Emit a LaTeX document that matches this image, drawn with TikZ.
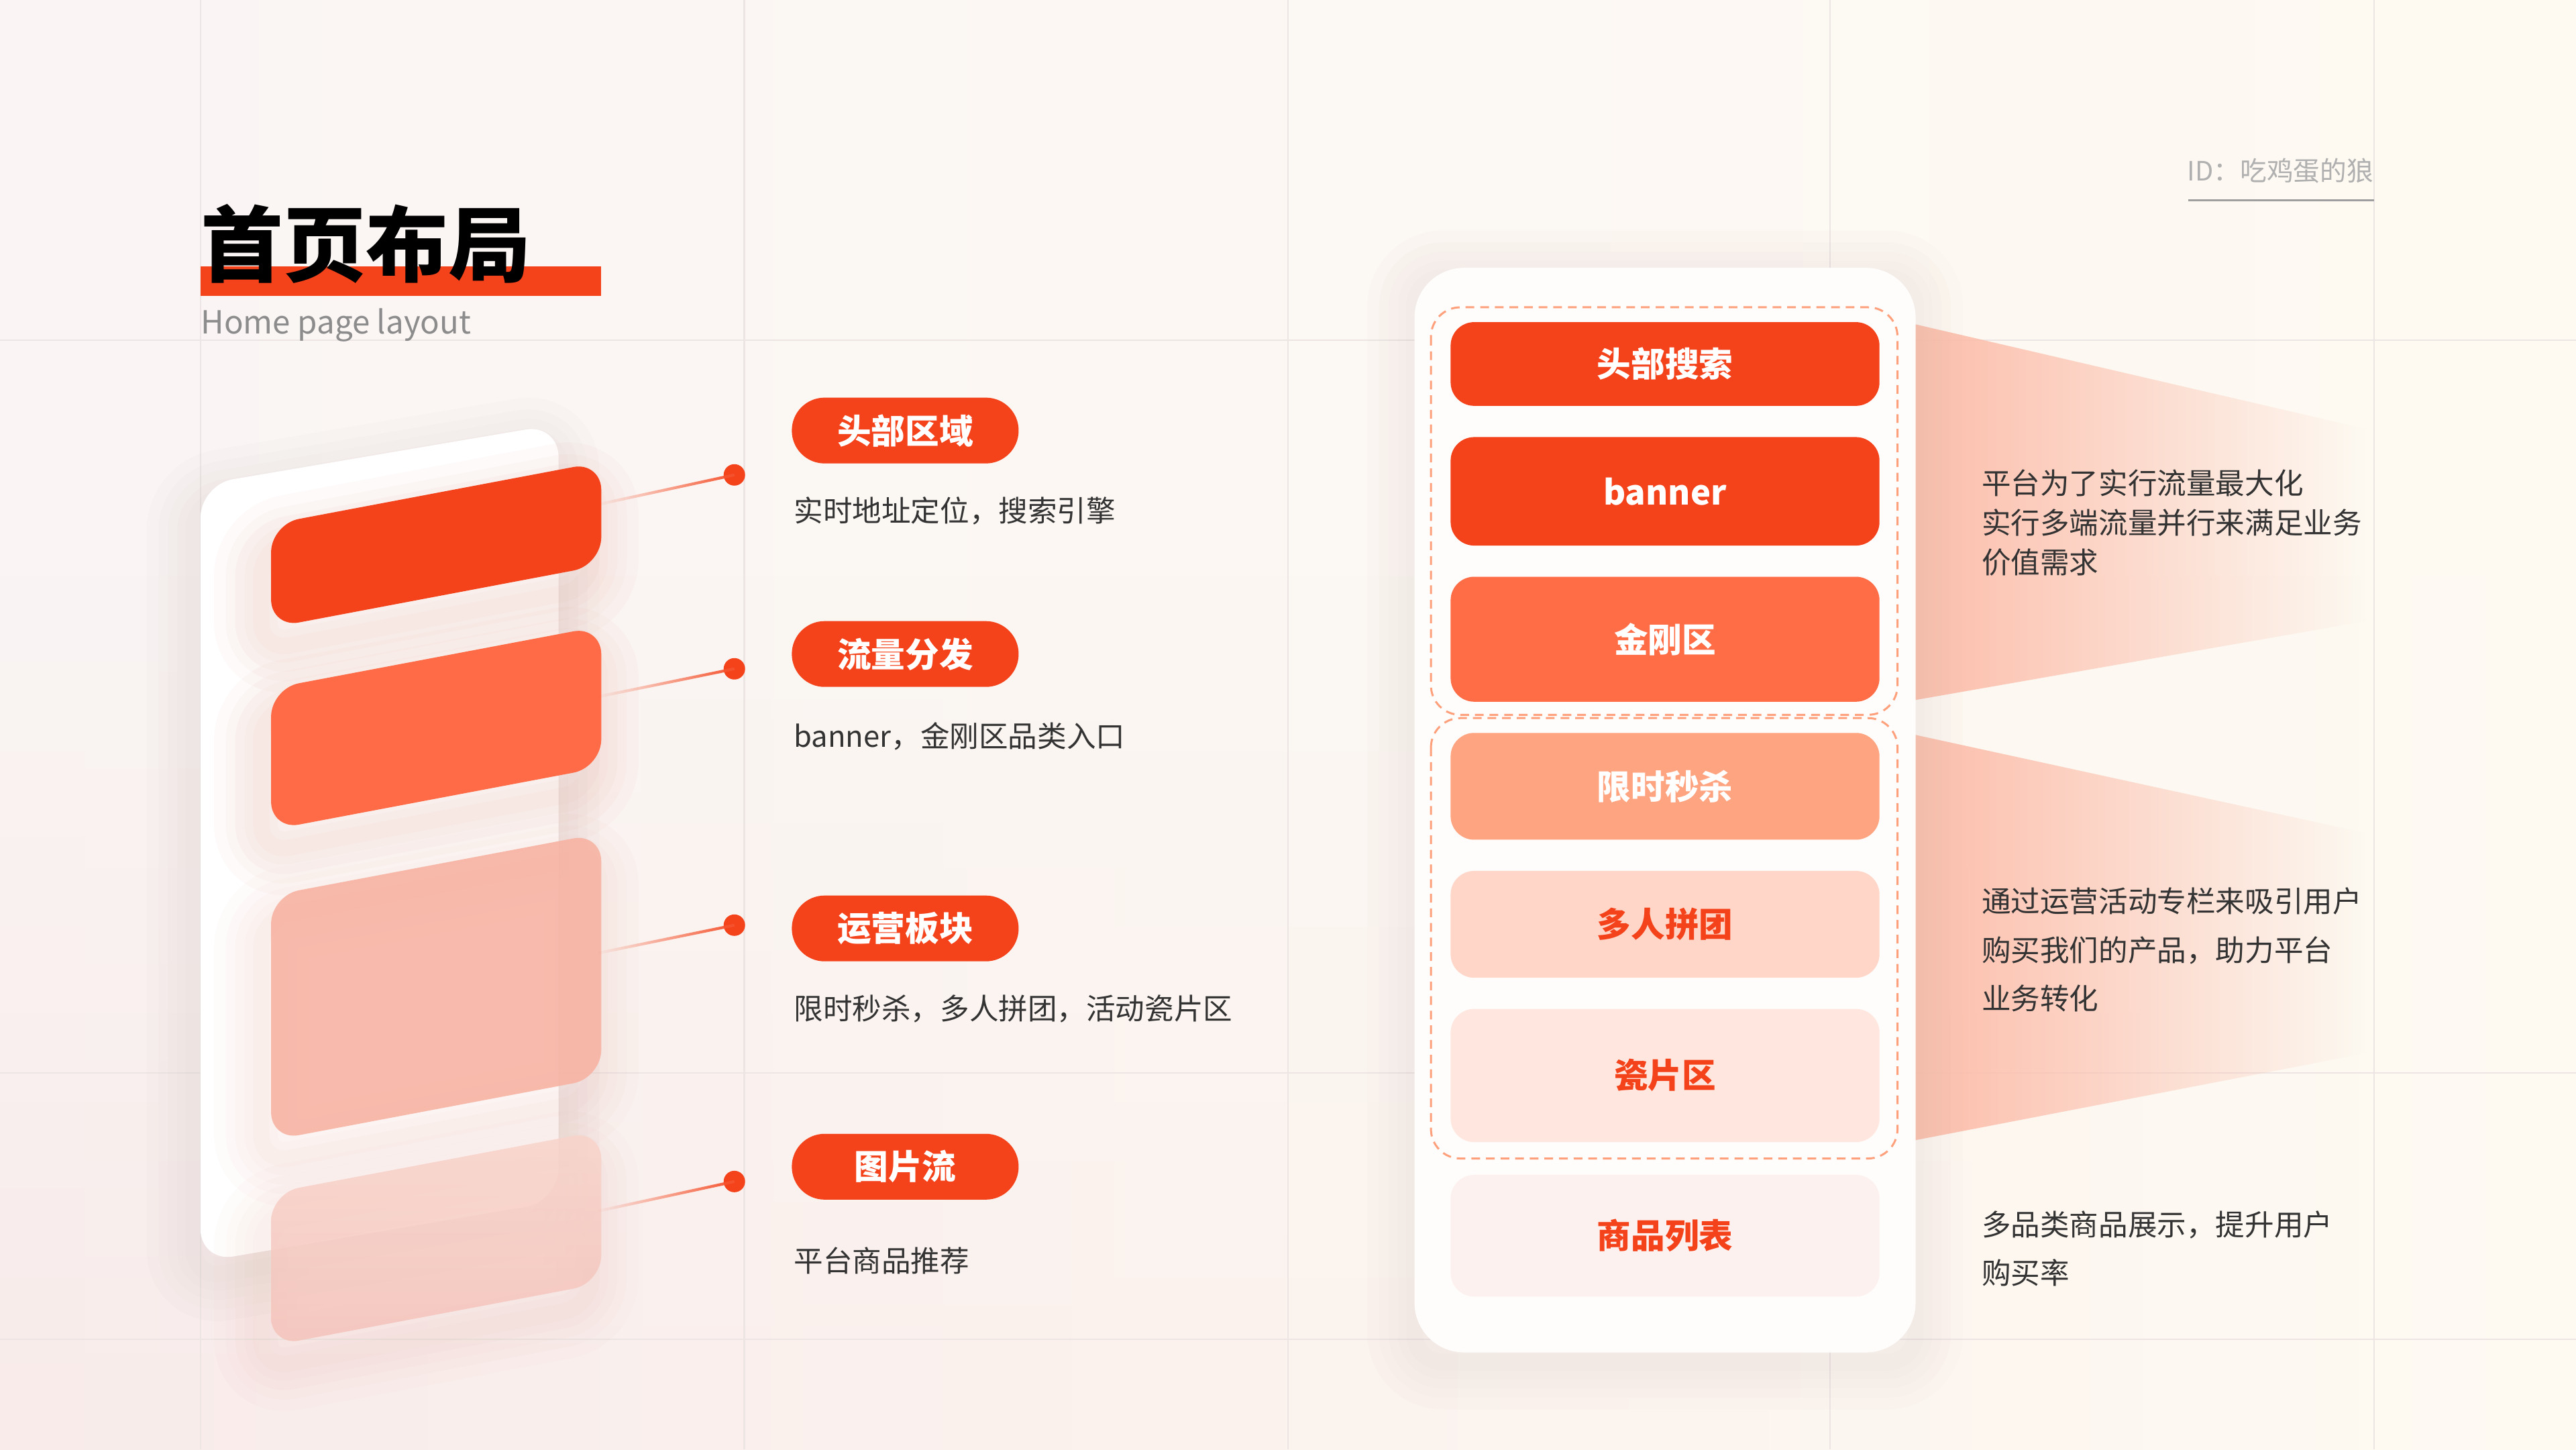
\documentclass[tikz,border=0pt]{standalone}
\usepackage{fontspec}
\setmainfont{Noto Sans CJK SC}
\usetikzlibrary{fadings}
\tikzfading[name=fadeL, left color=transparent!100, right color=transparent!0]
\tikzfading[name=fadeR, left color=transparent!0, middle color=transparent!35, right color=transparent!100]
\tikzfading[name=fadeUp, top color=transparent!100, bottom color=transparent!0]
\definecolor{mainred}{HTML}{F4421B}
\definecolor{orangeB}{HTML}{FF6B46}
\definecolor{orangeC}{HTML}{FF6D47}
\definecolor{orangeD}{HTML}{FFA480}
\definecolor{peachE}{HTML}{FFD6C8}
\definecolor{peachF}{HTML}{FFE7DF}
\definecolor{peachG}{HTML}{FCF1EE}
\definecolor{pinkA}{HTML}{F7B3A3}
\definecolor{pinkBt}{HTML}{F8D4CB}
\definecolor{pinkBb}{HTML}{F4C2B9}
\definecolor{raycol}{HTML}{FCBCA9}
\definecolor{gridc}{HTML}{ECE5E3}
\definecolor{dashc}{HTML}{FFA07C}
\definecolor{txt}{HTML}{333333}
\definecolor{subgray}{HTML}{8C8C8C}
\definecolor{idgray}{HTML}{B0B0B0}
\definecolor{bgL}{HTML}{FAF5F4}
\definecolor{bgR}{HTML}{FEFAF2}
\definecolor{bgPink}{HTML}{F8EBEA}
\definecolor{connc}{HTML}{F5532E}
\definecolor{shadowg}{HTML}{CFC3C0}
\definecolor{shadowp}{HTML}{E7A495}
\newcommand{\glowpath}[4]{%
  \foreach \w in {40,30,22,14,7}{\draw[#1, opacity=#2, line width=\w pt, line join=round, rounded corners=12pt, shift={#3}] #4;}}
\begin{document}
\begin{tikzpicture}[x=0.024490cm,y=-0.024490cm,
  pill/.style={rectangle, rounded corners=13.9pt, fill=mainred, text=white, minimum width=96.2pt, minimum height=27.9pt, inner sep=0pt, font=\bfseries\fontsize{14.4}{14.4}\selectfont},
  pbox/.style={rectangle, rounded corners=10pt, minimum width=181.9pt, inner sep=0pt, font=\bfseries\fontsize{14.4}{14.4}\selectfont},
  desc/.style={anchor=west, inner sep=0pt, text=txt, font=\fontsize{12.4}{12.4}\selectfont},
  rtext/.style={anchor=west, inner sep=0pt, text=txt, align=left},
  dot/.style={circle, fill=mainred, inner sep=0pt, minimum size=9.1pt},
  conn/.style={line width=1.2pt, draw=connc, path fading=fadeL},
  gridline/.style={draw=gridc, line width=0.7pt},
  dashbox/.style={draw=dashc, line width=0.85pt, dash pattern=on 3.7pt off 2.5pt, rounded corners=12.5pt}
]
\useasboundingbox (0,0) rectangle (1568,882);
% background
\shade[left color=bgL, right color=bgR] (0,0) rectangle (1568,882);
\shade[left color=bgPink, middle color=bgPink!60!bgR, right color=bgR, path fading=fadeUp] (0,350) rectangle (1568,882);
% grid
\foreach \x in {122,453,784,1114,1445} \draw[gridline] (\x,0) -- (\x,882);
\foreach \y in {207,653,815} \draw[gridline] (0,\y) -- (1568,\y);

% title
\fill[mainred] (122,162) rectangle (366,180);
\node[anchor=west, inner sep=0pt, font=\bfseries\fontsize{35}{35}\selectfont] (title) at (122,148.5) {首页布局};
\node[anchor=base west, inner sep=0pt, text=subgray, font=\fontsize{13.5}{13.5}\selectfont] (subtitle) at (122,203) {Home page layout};
\node[anchor=east, inner sep=0pt, text=idgray, font=\fontsize{11.3}{11.3}\selectfont] (idtext) at (1445,104) {ID：吃鸡蛋的狼};
\draw[draw=idgray!90!black, line width=0.8pt] (1332,122) -- (1445,122);

% left card
\glowpath{shadowg}{0.05}{(-4,10)}{(122,295) -- (340,258) -- (340,731) -- (122,768) -- cycle}
\fill[white, rounded corners=14pt] (122,295) -- (340,258) -- (340,731) -- (122,768) -- cycle;
% shadows of shapes
\glowpath{shadowp}{0.05}{(-6,14)}{(165,319) -- (366,281) -- (366,344) -- (165,382) -- cycle}
\glowpath{shadowp}{0.05}{(-6,14)}{(165,419) -- (366,381) -- (366,467) -- (165,505) -- cycle}
\glowpath{shadowp}{0.035}{(-6,14)}{(165,545) -- (366,507) -- (366,656) -- (165,694) -- cycle}
\glowpath{shadowp}{0.03}{(-6,14)}{(165,726) -- (366,688) -- (366,781) -- (165,819) -- cycle}
% shapes
\fill[mainred, rounded corners=12pt] (165,319) -- (366,281) -- (366,344) -- (165,382) -- cycle;
\fill[orangeB, rounded corners=12pt] (165,419) -- (366,381) -- (366,467) -- (165,505) -- cycle;
\fill[pinkA, opacity=0.9, rounded corners=12pt] (165,545) -- (366,507) -- (366,656) -- (165,694) -- cycle;
\shade[top color=pinkBt, bottom color=pinkBb, opacity=0.85, rounded corners=12pt] (165,726) -- (366,688) -- (366,781) -- (165,819) -- cycle;

% connectors
\coordinate (s1) at (364,307);
\coordinate (s2) at (364,424);
\coordinate (s3) at (364,580);
\coordinate (s4) at (364,737);
\node[dot] (d1) at (447,289) {};
\node[dot] (d2) at (447,407) {};
\node[dot] (d3) at (447,563) {};
\node[dot] (d4) at (447,719) {};
\draw[conn] (s1) -- (d1.center);
\draw[conn] (s2) -- (d2.center);
\draw[conn] (s3) -- (d3.center);
\draw[conn] (s4) -- (d4.center);

% pills
\node[pill] (p1) at (551,262) {头部区域};
\node[pill] (p2) at (551,398) {流量分发};
\node[pill] (p3) at (551,565) {运营板块};
\node[pill] (p4) at (551,710) {图片流};
\node[desc] (t1) at (483,311) {实时地址定位，搜索引擎};
\node[desc] (t2) at (483,448) {banner，金刚区品类入口};
\node[desc] (t3) at (483,614) {限时秒杀，多人拼团，活动瓷片区};
\node[desc] (t4) at (483,767) {平台商品推荐};

% rays
\fill[raycol, path fading=fadeR] (1160,196) -- (1440,261) -- (1440,378) -- (1160,427) -- cycle;
\fill[raycol, path fading=fadeR] (1160,446) -- (1440,507) -- (1440,641) -- (1160,695) -- cycle;

% phone
\glowpath{shadowg}{0.045}{(0,6)}{(861,163) rectangle (1166,823)}
\fill[white!70!bgR, rounded corners=21pt] (861,163) rectangle (1166,823);
\draw[dashbox] (871,187) rectangle (1155,435);
\draw[dashbox] (871,437) rectangle (1155,705);
\node[pbox, fill=mainred, text=white, minimum height=35.5pt] (b1) at (1013.5,221.5) {头部搜索};
\node[pbox, fill=mainred, text=white, minimum height=46pt] (b2) at (1013.5,299) {banner};
\node[pbox, fill=orangeC, text=white, minimum height=53pt] (b3) at (1013.5,389) {金刚区};
\node[pbox, fill=orangeD, text=white, minimum height=45.3pt] (b4) at (1013.5,478.5) {限时秒杀};
\node[pbox, fill=peachE, text=mainred, minimum height=45.3pt] (b5) at (1013.5,562.5) {多人拼团};
\node[pbox, fill=peachF, text=mainred, minimum height=56.5pt] (b6) at (1013.5,654.5) {瓷片区};
\node[pbox, fill=peachG, text=mainred, minimum height=51.6pt] (b7) at (1013.5,752) {商品列表};

% right texts
\node[rtext, font=\fontsize{12.4}{16.8}\selectfont] (r1) at (1206,318) {平台为了实行流量最大化\\实行多端流量并行来满足业务\\价值需求};
\node[rtext, font=\fontsize{12.4}{20.6}\selectfont] (r2) at (1206,578) {通过运营活动专栏来吸引用户\\购买我们的产品，助力平台\\业务转化};
\node[rtext, font=\fontsize{12.4}{20.5}\selectfont] (r3) at (1206,760) {多品类商品展示，提升用户\\购买率};
\end{tikzpicture}
\end{document}
